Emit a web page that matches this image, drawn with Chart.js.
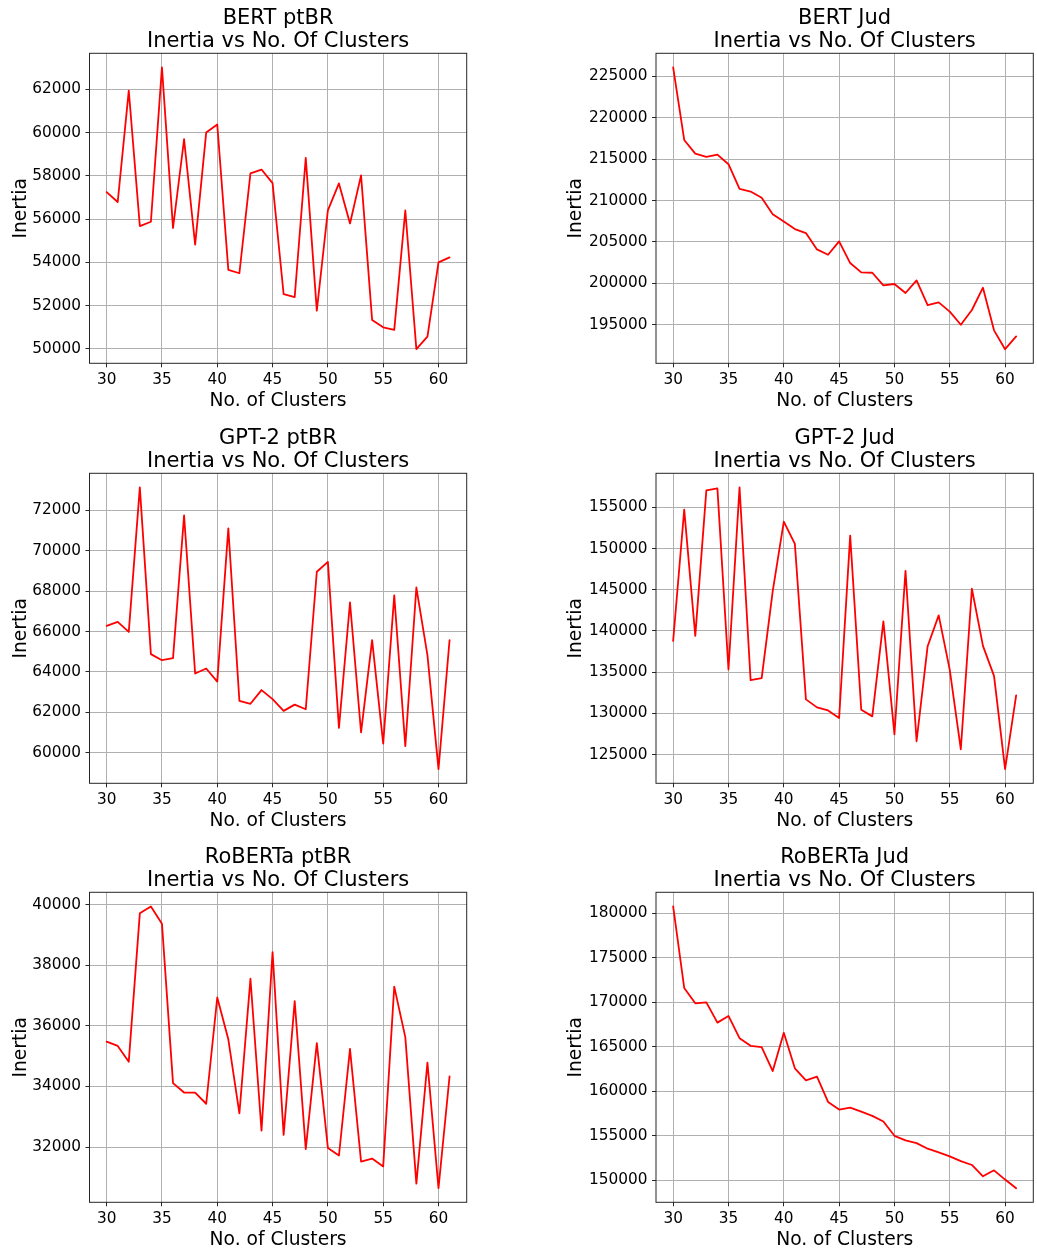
<!DOCTYPE html>
<html><head><meta charset="utf-8">
<script src="https://cdn.jsdelivr.net/npm/chart.js@4.4.1/dist/chart.umd.min.js"></script>
<style>
body{margin:0;background:#fff;width:1037px;height:1250px;position:relative;overflow:hidden}
canvas{position:absolute}
</style></head><body>
<canvas id="c0" width="520" height="420" style="left:0;top:0"></canvas>
<canvas id="c1" width="497" height="420" style="left:540px;top:0"></canvas>
<canvas id="c2" width="520" height="420" style="left:0;top:420px"></canvas>
<canvas id="c3" width="497" height="420" style="left:540px;top:420px"></canvas>
<canvas id="c4" width="520" height="420" style="left:0;top:839px"></canvas>
<canvas id="c5" width="497" height="420" style="left:540px;top:839px"></canvas>
<script>
// ---- data ----
const clusters = [30,31,32,33,34,35,36,37,38,39,40,41,42,43,44,45,46,47,48,49,50,51,52,53,54,55,56,57,58,59,60,61];
const xTicks = [30,35,40,45,50,55,60];

const bertPtbr = [57250,56790,61940,55680,55880,63010,55590,59690,54820,60000,60370,53660,53500,58110,58290,57660,52530,52400,58830,51770,56400,57650,55800,58020,51340,51000,50880,56400,49990,50570,54000,54230];
const bertJud = [226090,217320,215670,215270,215550,214390,211410,211090,210330,208360,207470,206550,206070,204100,203450,205060,202450,201320,201280,199760,199920,198830,200360,197380,197700,196580,195000,196780,199470,194320,192040,193590];
const gpt2Ptbr = [66280,66480,65980,73140,64880,64580,64680,71750,63920,64170,63520,71110,62570,62420,63100,62650,62070,62380,62150,68960,69450,61230,67440,61000,65570,60450,67790,60320,68180,64830,59180,65570];
const gpt2Jud = [138790,154720,139400,157060,157300,135320,157420,134030,134280,144840,153270,150560,131700,130730,130360,129440,151570,130440,129640,141170,127460,147300,126620,138150,141890,135280,125650,145120,138190,134560,123230,132180];
const robertaPtbr = [35480,35340,34820,39720,39950,39380,34110,33800,33800,33430,36940,35560,33110,37560,32540,38440,32400,36820,31930,35430,31970,31720,35240,31520,31620,31360,37300,35630,30790,34790,30640,34330];
const robertaJud = [180780,171610,169890,170000,167720,168470,165970,165110,164960,162280,166570,162580,161230,161640,158810,157950,158170,157720,157240,156610,155000,154480,154180,153550,153130,152690,152160,151720,150450,151120,150080,149110];

const ticksBertPtbr = [50000,52000,54000,56000,58000,60000,62000];
const ticksBertJud = [195000,200000,205000,210000,215000,220000,225000];
const ticksGpt2Ptbr = [60000,62000,64000,66000,68000,70000,72000];
const ticksGpt2Jud = [125000,130000,135000,140000,145000,150000,155000];
const ticksRobertaPtbr = [32000,34000,36000,38000,40000];
const ticksRobertaJud = [150000,155000,160000,165000,170000,175000,180000];

const titles = ['BERT ptBR','BERT Jud','GPT-2 ptBR','GPT-2 Jud','RoBERTa ptBR','RoBERTa Jud'];
const subtitle = 'Inertia vs No. Of Clusters';
const xLabel = 'No. of Clusters';
const yLabel = 'Inertia';

const series = [bertPtbr, bertJud, gpt2Ptbr, gpt2Jud, robertaPtbr, robertaJud];
const yTickSets = [ticksBertPtbr, ticksBertJud, ticksGpt2Ptbr, ticksGpt2Jud, ticksRobertaPtbr, ticksRobertaJud];

// ---- drawing ----
Chart.defaults.font.family = "'DejaVu Sans', sans-serif";
Chart.defaults.color = '#000';

const frame = {
  id: 'frame',
  afterDraw(chart) {
    const a = chart.chartArea, ctx = chart.ctx;
    ctx.save();
    ctx.strokeStyle = '#262626';
    ctx.lineWidth = 1;
    ctx.strokeRect(a.left, a.top, a.right - a.left, a.bottom - a.top);
    ctx.restore();
  }
};

function makeChart(i) {
  const data = series[i];
  const left = (i % 2 === 0);
  const yW = left ? 89.5 : 116;
  const padR = left ? 53.3 : 3.7;
  const yTitlePad = left ? 9.8 : 25.2;
  const mn = Math.min(...data), mx = Math.max(...data);
  const m = (mx - mn) * 0.05;
  const xr = clusters[clusters.length - 1] - clusters[0];
  const yt = yTickSets[i];
  new Chart(document.getElementById('c' + i), {
    type: 'line',
    data: {
      datasets: [{
        data: clusters.map((c, k) => ({x: c, y: data[k]})),
        borderColor: '#ff0000',
        borderWidth: 1.8,
        borderJoinStyle: 'round',
        borderCapStyle: 'round',
        pointRadius: 0,
        tension: 0,
        fill: false
      }]
    },
    options: {
      responsive: false,
      animation: false,
      layout: {padding: {left: 0, right: padR, top: 0, bottom: 0}},
      plugins: {
        legend: {display: false},
        tooltip: {enabled: false},
        title: {
          display: true,
          fullSize: false,
          text: [titles[i], subtitle],
          font: {size: 21, weight: 'normal', lineHeight: 23.4 / 21},
          color: '#000',
          padding: {top: 6.5, bottom: 0}
        }
      },
      scales: {
        x: {
          type: 'linear',
          min: clusters[0] - xr * 0.05,
          max: clusters[clusters.length - 1] + xr * 0.05,
          afterBuildTicks: s => { s.ticks = xTicks.map(v => ({value: v})); },
          afterFit: s => { s.height = 56.7; },
          grid: {color: '#b0b0b0', lineWidth: 1, drawTicks: true, tickLength: 4, tickColor: '#262626'},
          border: {display: false},
          ticks: {autoSkip: false, maxRotation: 0, padding: 4, font: {size: 15.3}, color: '#000', callback: v => String(v)},
          title: {display: true, text: xLabel, font: {size: 18.7}, color: '#000', padding: {top: 0, bottom: 8}}
        },
        y: {
          type: 'linear',
          min: mn - m,
          max: mx + m,
          afterBuildTicks: s => { s.ticks = yt.map(v => ({value: v})); },
          afterFit: s => { s.width = yW; },
          grid: {color: '#b0b0b0', lineWidth: 1, drawTicks: true, tickLength: 4, tickColor: '#262626'},
          border: {display: false},
          ticks: {autoSkip: false, padding: 4.5, font: {size: 15.3}, color: '#000', callback: v => String(v)},
          title: {display: true, text: yLabel, font: {size: 18.7}, color: '#000', padding: {top: yTitlePad, bottom: 0}}
        }
      }
    },
    plugins: [frame]
  });
}
for (let i = 0; i < 6; i++) makeChart(i);
</script>
</body></html>
